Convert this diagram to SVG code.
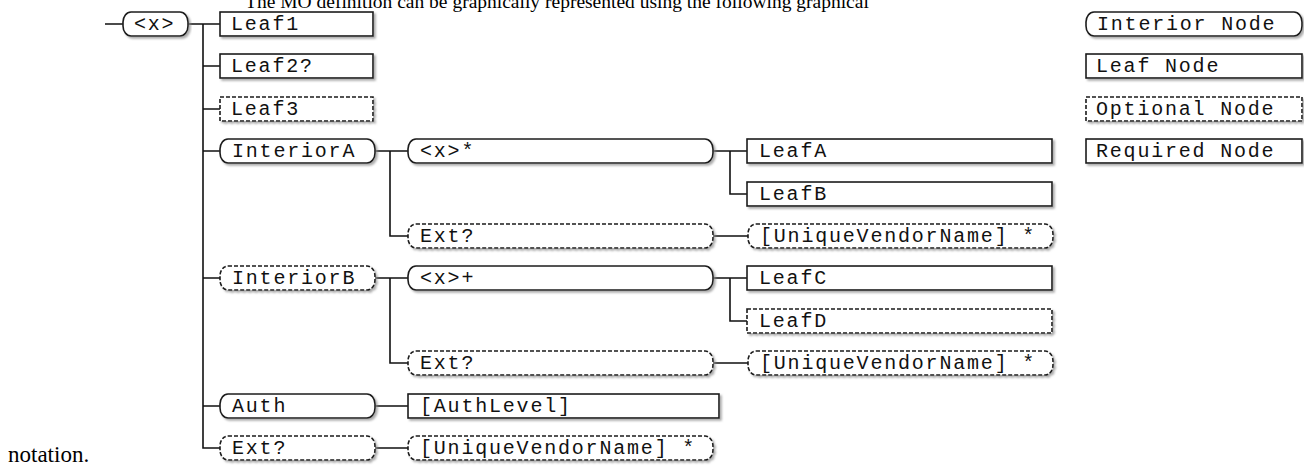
<svg xmlns="http://www.w3.org/2000/svg" width="1304" height="469" viewBox="0 0 1304 469">
<defs>
<filter id="sh" x="-5%" y="-20%" width="110%" height="150%">
<feDropShadow dx="2" dy="2" stdDeviation="0.8" flood-color="#888" flood-opacity="0.7"/>
</filter>
</defs>
<style>
.box{fill:#fff;stroke:#1a1a1a;stroke-width:1.6;filter:url(#sh)}
.opt{stroke-dasharray:4 2}
.t{font-family:"Liberation Mono","Courier New",monospace;font-size:20px;letter-spacing:1.8px;fill:#111}
.conn{stroke:#111;stroke-width:1.6;fill:none}
.prose{font-family:"Liberation Serif","Times New Roman",serif;fill:#000}
</style>
<rect width="1304" height="469" fill="#fff"/>
<text class="prose" x="245" y="8" font-size="19.5">The MO definition can be graphically represented using the following graphical</text>
<text class="prose" x="8" y="462" font-size="23">notation.</text>

<g id="connectors">
<path class="conn" d="M105 24H123M188 24H220M203 24V448H220M203 66H220M203 109H220M203 151H220M203 278H220M203 406H220"/>
<path class="conn" d="M375 151H408M390 151V236H408M713 151H747M730 151V194H747M713 236H748"/>
<path class="conn" d="M375 278H408M390 278V363H408M713 278H747M730 278V321H747M713 363H748"/>
<path class="conn" d="M375 406H408M375 448H408"/>
</g>

<g id="root"><rect class="box" x="123" y="12" width="65" height="24" rx="8" ry="10"/><text class="t" x="134" y="30">&lt;x&gt;</text></g>
<g id="leaf1"><rect class="box" x="220" y="12" width="153" height="24"/><text class="t" x="231" y="30">Leaf1</text></g>
<g id="leaf2"><rect class="box" x="220" y="54" width="153" height="24"/><text class="t" x="231" y="72">Leaf2?</text></g>
<g id="leaf3"><rect class="box opt" x="220" y="97" width="153" height="24"/><text class="t" x="231" y="115">Leaf3</text></g>
<g id="interiorA"><rect class="box" x="220" y="139" width="155" height="24" rx="8" ry="10"/><text class="t" x="232" y="157">InteriorA</text></g>
<g id="xstar"><rect class="box" x="408" y="139" width="305" height="24" rx="8" ry="10"/><text class="t" x="420" y="157">&lt;x&gt;*</text></g>
<g id="leafA"><rect class="box" x="747" y="139" width="305" height="24"/><text class="t" x="759" y="157">LeafA</text></g>
<g id="leafB"><rect class="box" x="747" y="182" width="305" height="24"/><text class="t" x="759" y="200">LeafB</text></g>
<g id="extA"><rect class="box opt" x="408" y="224" width="305" height="24" rx="8" ry="10"/><text class="t" x="420" y="242">Ext?</text></g>
<g id="vendorA"><rect class="box opt" x="748" y="224" width="305" height="24" rx="8" ry="10"/><text class="t" x="760" y="242">[UniqueVendorName] *</text></g>
<g id="interiorB"><rect class="box opt" x="220" y="266" width="155" height="24" rx="8" ry="10"/><text class="t" x="232" y="284">InteriorB</text></g>
<g id="xplus"><rect class="box" x="408" y="266" width="305" height="24" rx="8" ry="10"/><text class="t" x="420" y="284">&lt;x&gt;+</text></g>
<g id="leafC"><rect class="box" x="747" y="266" width="305" height="24"/><text class="t" x="759" y="284">LeafC</text></g>
<g id="leafD"><rect class="box opt" x="747" y="309" width="305" height="24"/><text class="t" x="759" y="327">LeafD</text></g>
<g id="extB"><rect class="box opt" x="408" y="351" width="305" height="24" rx="8" ry="10"/><text class="t" x="420" y="369">Ext?</text></g>
<g id="vendorB"><rect class="box opt" x="748" y="351" width="305" height="24" rx="8" ry="10"/><text class="t" x="760" y="369">[UniqueVendorName] *</text></g>
<g id="auth"><rect class="box" x="220" y="394" width="155" height="24" rx="8" ry="10"/><text class="t" x="232" y="412">Auth</text></g>
<g id="authLevel"><rect class="box" x="408" y="394" width="311" height="24"/><text class="t" x="420" y="412">[AuthLevel]</text></g>
<g id="extRoot"><rect class="box opt" x="220" y="436" width="155" height="24" rx="8" ry="10"/><text class="t" x="232" y="454">Ext?</text></g>
<g id="vendorRoot"><rect class="box opt" x="408" y="436" width="305" height="24" rx="8" ry="10"/><text class="t" x="420" y="454">[UniqueVendorName] *</text></g>

<g id="legend-interior"><rect class="box" x="1086" y="12" width="216" height="24" rx="8" ry="10"/><text class="t" x="1097" y="30">Interior Node</text></g>
<g id="legend-leaf"><rect class="box" x="1086" y="54" width="216" height="24"/><text class="t" x="1096" y="72">Leaf Node</text></g>
<g id="legend-optional"><rect class="box opt" x="1086" y="97" width="216" height="24"/><text class="t" x="1096" y="115">Optional Node</text></g>
<g id="legend-required"><rect class="box" x="1086" y="139" width="216" height="24"/><text class="t" x="1096" y="157">Required Node</text></g>
</svg>
